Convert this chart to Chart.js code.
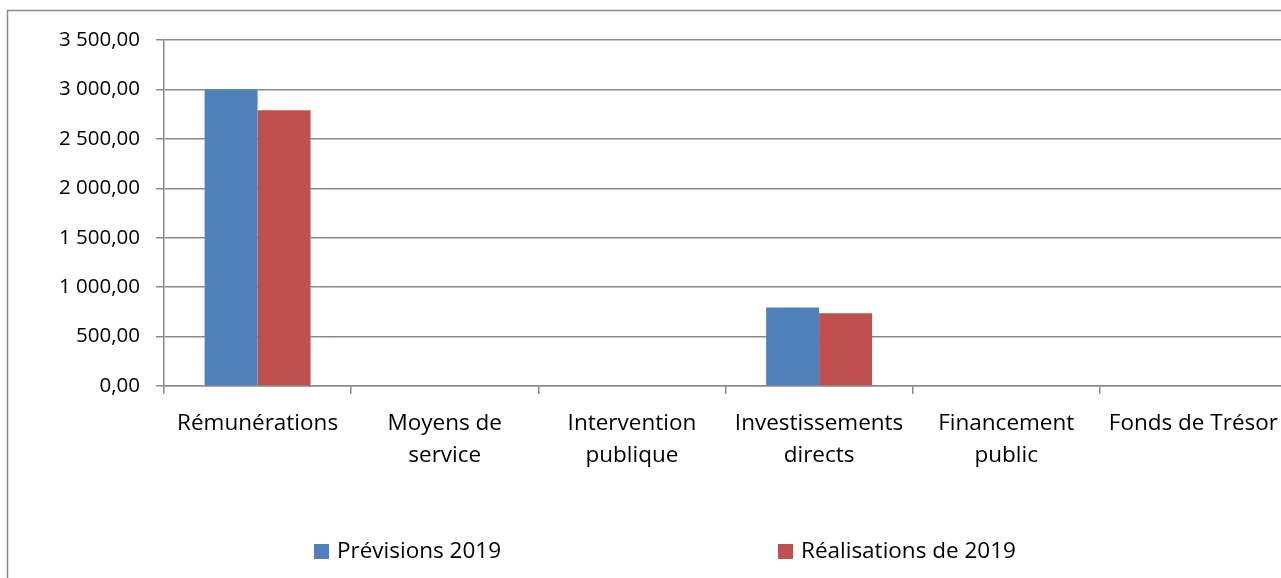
<!DOCTYPE html>
<html lang="fr">
<head>
<meta charset="utf-8">
<title>Prévisions et réalisations 2019</title>
<script src="https://cdn.jsdelivr.net/npm/chart.js@4/dist/chart.umd.min.js"></script>
<style>
  html, body { margin: 0; padding: 0; background: #fff; overflow: hidden; }
  #wrap { position: absolute; left: 0; top: 0; width: 1330px; height: 578px; }
  canvas { display: block; }
</style>
</head>
<body>
<div id="wrap"><canvas id="chart" width="1330" height="578"></canvas></div>
<script>
// Budget categories (x axis), two lines where the label wraps
const categories = [
  ["Rémunérations"],
  ["Moyens de", "service"],
  ["Intervention", "publique"],
  ["Investissements", "directs"],
  ["Financement", "public"],
  ["Fonds de Trésor"]
];

// Series
const seriesNames = ["Prévisions 2019", "Réalisations de 2019"];
const previsions2019 = [3000, 0, 0, 795, 0, 0];
const realisations2019 = [2790, 0, 0, 735, 0, 0];

// Value axis ticks
const yTickValues = [0, 500, 1000, 1500, 2000, 2500, 3000, 3500];
const yTickLabels = ["0,00", "500,00", "1 000,00", "1 500,00", "2 000,00", "2 500,00", "3 000,00", "3 500,00"];

const FONT = "'Open Sans', 'DejaVu Sans', sans-serif";
const GRID = "#8a8a8a";

// White background plus the outer frame of the chart object
const framePlugin = {
  id: "frame",
  beforeDraw(chart) {
    const ctx = chart.ctx;
    ctx.save();
    ctx.fillStyle = "#ffffff";
    ctx.fillRect(0, 0, chart.width, chart.height);
    ctx.strokeStyle = GRID;
    ctx.lineWidth = 1.5;
    ctx.beginPath();
    ctx.moveTo(7.5, chart.height);
    ctx.lineTo(7.5, 10.5);
    ctx.lineTo(chart.width, 10.5);
    ctx.stroke();
    ctx.restore();
  }
};

// Legend row under the category labels, items spread across the width
const spreadLegend = {
  id: "spreadLegend",
  afterDraw(chart, args, opts) {
    const ctx = chart.ctx;
    ctx.save();
    ctx.font = opts.fontSize + "px " + FONT;
    ctx.textBaseline = "middle";
    ctx.textAlign = "left";
    chart.data.datasets.forEach((ds, i) => {
      const x = opts.itemX[i];
      ctx.fillStyle = ds.backgroundColor;
      ctx.fillRect(x, opts.y - opts.box / 2, opts.box, opts.box);
      ctx.fillStyle = "#000";
      ctx.fillText(ds.label, x + opts.box + opts.gap, opts.y);
    });
    ctx.restore();
  }
};

function fixedWidth(w) { return (scale) => { scale.width = w; }; }
function fixedHeight(h) { return (scale) => { scale.height = h; }; }

new Chart(document.getElementById("chart"), {
  type: "bar",
  data: {
    labels: categories,
    datasets: [
      {
        label: seriesNames[0],
        data: previsions2019,
        backgroundColor: "#4F81BD",
        borderWidth: 0,
        barPercentage: 1,
        categoryPercentage: 0.566
      },
      {
        label: seriesNames[1],
        data: realisations2019,
        backgroundColor: "#C0504D",
        borderWidth: 0,
        barPercentage: 1,
        categoryPercentage: 0.566
      }
    ]
  },
  options: {
    responsive: false,
    animation: false,
    devicePixelRatio: 1,
    layout: { padding: { left: 0, top: 40, right: 43, bottom: 0 } },
    plugins: {
      legend: { display: false },
      tooltip: { enabled: false },
      spreadLegend: { itemX: [314, 778], y: 551.5, box: 15, gap: 8, fontSize: 22.5 }
    },
    scales: {
      x: {
        afterFit: fixedHeight(192),
        grid: {
          offset: true,
          drawOnChartArea: false,
          drawTicks: true,
          tickLength: 8,
          color: GRID,
          lineWidth: 1.5
        },
        border: { display: true, color: GRID, width: 1.5 },
        ticks: {
          color: "#000",
          padding: 14,
          maxRotation: 0,
          autoSkip: false,
          font: { family: FONT, size: 22.5, lineHeight: 1.42 }
        }
      },
      y: {
        min: 0,
        max: 3500,
        afterFit: fixedWidth(164),
        afterBuildTicks: (scale) => { scale.ticks = yTickValues.map(v => ({ value: v })); },
        grid: {
          color: GRID,
          lineWidth: 1.5,
          drawTicks: true,
          tickLength: 8
        },
        border: { display: true, color: GRID, width: 1.5 },
        ticks: {
          color: "#000",
          padding: 16,
          font: { family: FONT, size: 20.5 },
          callback: (value) => {
            const i = yTickValues.indexOf(value);
            return i >= 0 ? yTickLabels[i] : "";
          }
        }
      }
    }
  },
  plugins: [framePlugin, spreadLegend]
});
</script>
</body>
</html>
